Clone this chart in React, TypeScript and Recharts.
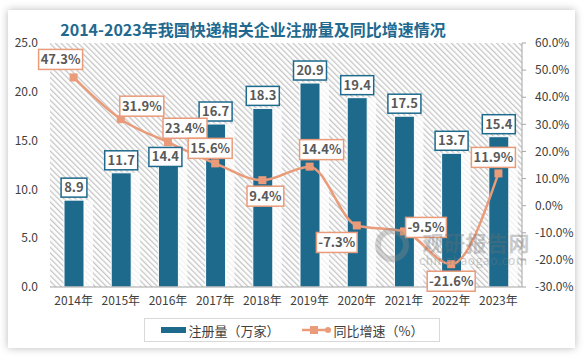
import React from "react";
import {
  ComposedChart,
  Bar,
  Line,
  XAxis,
  YAxis,
  ReferenceArea,
  Legend,
  LabelList,
} from "recharts";

const years = ["2014年", "2015年", "2016年", "2017年", "2018年", "2019年", "2020年", "2021年", "2022年", "2023年"];
const registrations = [8.9, 11.7, 14.4, 16.7, 18.3, 20.9, 19.4, 17.5, 13.7, 15.4];
const growth = [47.3, 31.9, 23.4, 15.6, 9.4, 14.4, -7.3, -9.5, -21.6, 11.9];
const leftTicks = [0, 5, 10, 15, 20, 25];
const rightTicks = [-30, -20, -10, 0, 10, 20, 30, 40, 50, 60];

// where each growth label box sits relative to its point
const growthLabelOffsets = [
  [-13, -18], [21, -13], [17, -14], [-5, -15], [3, 16],
  [12, -17], [-20, 17], [22, -4], [0, 17], [-5, -16],
];
// 2016's value label is pushed inside the bar (the 23.4% box sits above it)
const barLabelInside = [false, false, true, false, false, false, false, false, false, false];

const data = years.map((name, i) => ({
  name,
  reg: registrations[i],
  growth: growth[i],
}));

const BLUE = "#1d6a8d";
const ORANGE = "#e99b7a";
const FONT = "'Noto Sans CJK SC', 'Noto Sans', sans-serif";

const charW = (s: string) => {
  let w = 0;
  for (const c of s) {
    if (c === ".") w += 3.4;
    else if (c === "%") w += 11;
    else if (c === "-") w += 4;
    else w += 7.2;
  }
  return w;
};

const BarShape = (props: any) => {
  const { x, y, width, height } = props;
  if (!height || height <= 0) return null;
  return (
    <g>
      <rect x={x + width} y={y} width={9} height={height} fill="#ffffff" fillOpacity={0.75} />
      <rect x={x} y={y} width={width} height={height} fill={BLUE} stroke="#ffffff" strokeWidth={1} />
    </g>
  );
};

const BarLabel = (props: any) => {
  const { x, y, width, value, index } = props;
  const txt = Number(value).toFixed(1);
  const w = charW(txt) + 8;
  const h = 19;
  const cx = x + width / 2 - (barLabelInside[index] ? 3 : 0);
  const top = barLabelInside[index] ? y + 1 : y - 3 - h;
  return (
    <g>
      <rect x={cx - w / 2} y={top} width={w} height={h} fill="#fff" stroke={BLUE} strokeWidth={1.5} />
      <text x={cx} y={top + h / 2 + 1} textAnchor="middle" dominantBaseline="middle" fontSize={13} fontWeight="bold" fill="#595959" fontFamily={FONT}>
        {txt}
      </text>
    </g>
  );
};

const GrowthLabel = (props: any) => {
  const { x, y, value, index } = props;
  const txt = Number(value).toFixed(1) + "%";
  const [dx, dy] = growthLabelOffsets[index] || [0, -16];
  const w = charW(txt) + 8;
  const h = 20;
  const cx = x + dx;
  const cy = y + dy;
  return (
    <g>
      <rect x={cx - w / 2} y={cy - h / 2} width={w} height={h} fill="#fff" stroke={ORANGE} strokeWidth={1.5} />
      <text x={cx} y={cy + 1} textAnchor="middle" dominantBaseline="middle" fontSize={13} fontWeight="bold" fill="#595959" fontFamily={FONT}>
        {txt}
      </text>
    </g>
  );
};

const SquareDot = (props: any) => {
  const { cx, cy, index } = props;
  if (cx == null || cy == null) return null;
  return <rect key={index} x={cx - 4} y={cy - 4} width={8} height={8} fill={ORANGE} />;
};

const LegendBox = () => (
  <div
    style={{
      width: 296,
      height: 24,
      border: "1px solid #d9d9d9",
      boxSizing: "border-box",
      display: "flex",
      alignItems: "center",
      justifyContent: "center",
      gap: 22,
      fontFamily: FONT,
      fontSize: 13,
      color: "#404040",
      background: "#fff",
    }}
  >
    <span style={{ display: "flex", alignItems: "center" }}>
      <span style={{ display: "inline-block", width: 25, height: 6, background: BLUE, marginRight: 3 }} />
      注册量（万家）
    </span>
    <span style={{ display: "flex", alignItems: "center" }}>
      <svg width={30} height={10} style={{ marginRight: 2 }}>
        <line x1={0} y1={5} x2={26} y2={5} stroke={ORANGE} strokeWidth={2.5} />
        <rect x={8} y={1} width={8} height={8} fill={ORANGE} />
        <circle cx={26} cy={5} r={3} fill={ORANGE} />
      </svg>
      同比增速（%）
    </span>
  </div>
);

export default function App() {
  return (
    <div style={{ position: "absolute", left: 0, top: 0, width: 586, height: 359, background: "#fff" }}>
      <svg width={0} height={0} style={{ position: "absolute" }}>
        <defs>
          <pattern
            id="diaghatch"
            width={4}
            height={4}
            patternUnits="userSpaceOnUse"
            patternTransform="rotate(-45)"
          >
            <rect x={0} y={0} width={4} height={4} fill="#ffffff" />
            <rect x={0} y={0} width={1.3} height={4} fill="#c6c6c6" />
          </pattern>
        </defs>
      </svg>
      <div
        style={{
          position: "absolute",
          left: 8,
          top: 10,
          width: 567,
          height: 338,
          background: "#fff",
          boxShadow: "0 0 8px rgba(0,0,0,0.28)",
        }}
      />
      <div style={{ position: "absolute", left: 0, top: 0 }}>
        <ComposedChart
          width={586}
          height={359}
          data={data}
          margin={{ top: 43, right: 0, bottom: 42, left: 0 }}
        >
          <text x={253} y={36} textAnchor="middle" fontSize={16} fontWeight="bold" fill="#22698f" fontFamily={FONT}>
            2014-2023年我国快递相关企业注册量及同比增速情况
          </text>
          <ReferenceArea
            yAxisId="left"
            y1={0}
            y2={25}
            fill="url(#diaghatch)"
            fillOpacity={1}
            stroke="none"
          />
          <XAxis
            dataKey="name"
            height={30}
            axisLine={{ stroke: "#a6a6a6" }}
            tickLine={false}
            tickSize={8}
            tickMargin={1}
            tick={{ fill: "#404040", fontSize: 12, fontFamily: FONT }}
            interval={0}
          />
          <YAxis
            yAxisId="left"
            width={50}
            domain={[0, 25]}
            ticks={leftTicks}
            tickFormatter={(v: number) => v.toFixed(1)}
            axisLine={false}
            tickLine={false}
            tickSize={6}
            tickMargin={6}
            tick={{ fill: "#404040", fontSize: 12, fontFamily: FONT }}
          />
          <YAxis
            yAxisId="right"
            orientation="right"
            width={64}
            domain={[-30, 60]}
            ticks={rightTicks}
            tickFormatter={(v: number) => v.toFixed(1) + "%"}
            axisLine={{ stroke: "#a6a6a6" }}
            tickLine={{ stroke: "#a6a6a6" }}
            tickSize={4}
            tickMargin={9}
            tick={{ fill: "#404040", fontSize: 12, fontFamily: FONT }}
          />
          <Legend
            verticalAlign="middle"
            align="center"
            wrapperStyle={{ left: 144, top: 318, width: 296 }}
            content={() => <LegendBox />}
          />
          <Bar yAxisId="left" dataKey="reg" barSize={20} shape={BarShape} isAnimationActive={false}>
            <LabelList dataKey="reg" content={BarLabel} />
          </Bar>
          <Line
            yAxisId="right"
            type="monotone"
            dataKey="growth"
            stroke={ORANGE}
            strokeWidth={2.5}
            dot={SquareDot}
            activeDot={false}
            isAnimationActive={false}
          >
            <LabelList dataKey="growth" content={GrowthLabel} />
          </Line>
        </ComposedChart>
      </div>
      {/* faint site watermark laid over the plot */}
      <svg width={586} height={359} style={{ position: "absolute", left: 0, top: 0, pointerEvents: "none" }}>
        <g opacity={0.35} fontFamily={FONT}>
          <circle cx={392} cy={245} r={14} fill="none" stroke="#8a8a8a" strokeWidth={6} />
          <text x={476} y={251} textAnchor="middle" fontSize={21} fontWeight="bold" fill="#6e6e6e" textLength={107}>
            观研报告网
          </text>
          <text x={473} y={265} textAnchor="middle" fontSize={12} fill="#7a7a7a" textLength={108}>
            chinabaogao.com
          </text>
        </g>
      </svg>
    </div>
  );
}
